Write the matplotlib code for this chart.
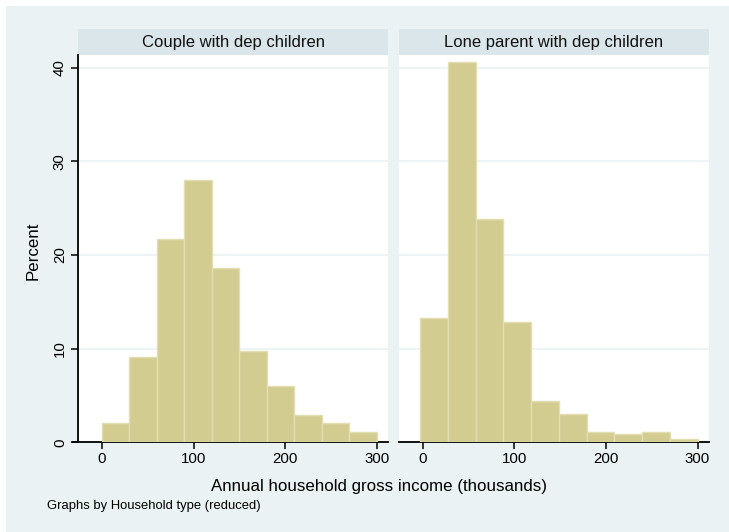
import matplotlib
matplotlib.use("Agg")
import matplotlib.pyplot as plt
from matplotlib.patches import Rectangle
import numpy as np

plt.rcParams['font.family'] = ['Liberation Sans', 'DejaVu Sans']

# Histogram bins (income in thousands) and bar heights (percent) per household type
panel_titles = ["Couple with dep children", "Lone parent with dep children"]
couple_edges = [0, 30, 60, 90, 120, 150, 180, 210, 240, 270, 300]
couple_pct = [2.1, 9.15, 21.75, 28.0, 18.6, 9.75, 6.0, 2.9, 2.1, 1.1]
lone_edges = [-3, 27.3, 57.6, 87.9, 118.2, 148.5, 178.8, 209.1, 239.4, 269.7, 300]
lone_pct = [13.25, 40.6, 23.85, 12.9, 4.4, 3.05, 1.07, 0.92, 1.07, 0.32]

x_ticks = [0, 100, 200, 300]
y_ticks = [0, 10, 20, 30, 40]

W, H = 729, 532
BG = "#EAF2F3"
STRIP = "#DAE6EA"
BAR = "#D3CC91"
BAR_EDGE = "#E3DEB2"

fig = plt.figure(figsize=(W / 100, H / 100), dpi=100, facecolor="white")

# light graph region
fig.patches.append(Rectangle((6 / W, 0), 1 - 6 / W, 1 - 6 / H,
                             transform=fig.transFigure, facecolor=BG,
                             edgecolor="none", zorder=-10))


def px_axes(x0, y0, x1, y1):
    return fig.add_axes([x0 / W, 1 - y1 / H, (x1 - x0) / W, (y1 - y0) / H])


panels = [
    (78, 388, couple_edges, couple_pct, True),
    (399, 708.5, lone_edges, lone_pct, False),
]
plot_top, plot_bottom = 55, 442.3
strip_top = 29

for (x0, x1, edges, pct, show_y), title in zip(panels, panel_titles):
    # strip header
    sax = px_axes(x0, strip_top, x1, plot_top)
    sax.set_facecolor(STRIP)
    sax.set_xticks([])
    sax.set_yticks([])
    for s in sax.spines.values():
        s.set_visible(False)
    sax.text(0.5, 0.5, title, ha="center", va="center", fontsize=12,
             color="#111111", transform=sax.transAxes)

    ax = px_axes(x0, plot_top, x1, plot_bottom)
    ax.set_facecolor("white")
    e = np.array(edges, dtype=float)
    ax.bar(e[:-1], pct, width=np.diff(e), align="edge", color=BAR,
           edgecolor=BAR_EDGE, linewidth=1.0, zorder=3)
    ax.set_xlim(-26, 312)
    ax.set_ylim(0, 41.36)
    ax.set_yticks(y_ticks)
    ax.set_xticks(x_ticks)
    ax.grid(axis="y", color=BG, linewidth=1.2, zorder=0)
    ax.set_axisbelow(True)
    for side in ("top", "right"):
        ax.spines[side].set_visible(False)
    ax.spines["bottom"].set_color("black")
    ax.spines["bottom"].set_linewidth(1.3)
    ax.tick_params(axis="x", length=5, width=1.1, labelsize=10.8,
                   pad=2, colors="black")
    if show_y:
        ax.spines["left"].set_color("black")
        ax.spines["left"].set_linewidth(1.3)
        ax.tick_params(axis="y", length=5, width=1.1, labelsize=10.8,
                       pad=3, colors="black", labelrotation=90)
        for lab in ax.get_yticklabels():
            lab.set_va("center")
        ax.plot([-31.5, -26], [0, 0], color="black", lw=1.3,
                clip_on=False, transform=ax.transData, zorder=5)
    else:
        ax.spines["left"].set_visible(False)
        ax.tick_params(axis="y", length=0, labelleft=False)

fig.text(33 / W, 1 - 251 / H, "Percent", rotation=90, ha="center",
         va="center", fontsize=12.2)
fig.text(379 / W, 1 - 486 / H, "Annual household gross income (thousands)",
         ha="center", va="center", fontsize=12.2)
fig.text(47 / W, 1 - 506 / H, "Graphs by Household type (reduced)",
         ha="left", va="center", fontsize=9.4)

fig.savefig("out.png", dpi=100, facecolor="white")
